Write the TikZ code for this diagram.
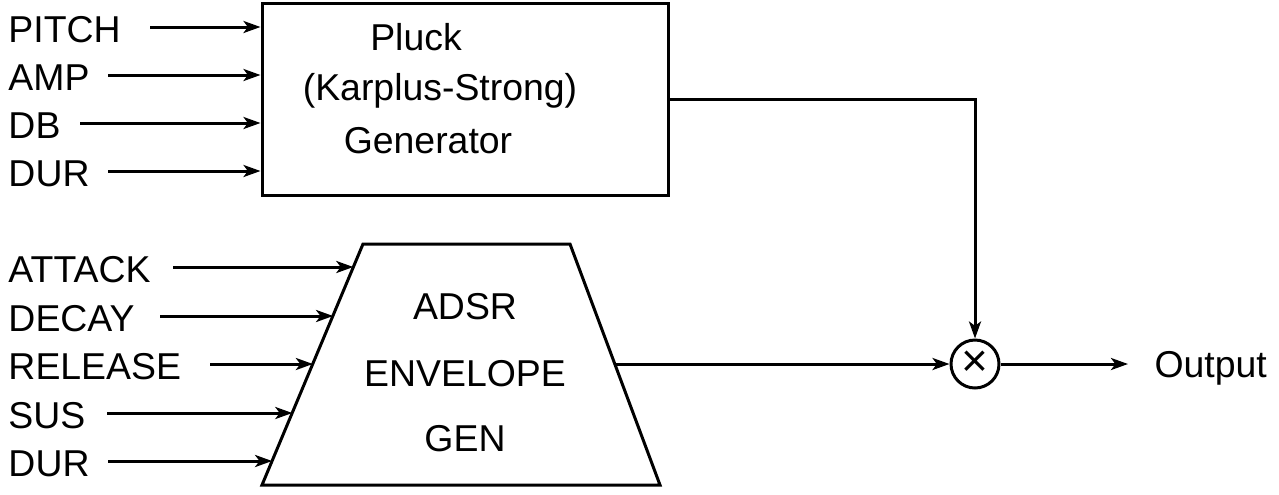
\documentclass[tikz,border=0pt]{standalone}
\usepackage{fontspec}
\setmainfont{Liberation Sans}
\usetikzlibrary{arrows.meta}
\begin{document}
\begin{tikzpicture}[x=0.5pt,y=-0.5pt, line width=1.5pt,
  lbl/.style={font=\fontsize{18.7}{22}\selectfont, inner sep=0},
  arr/.style={-{Stealth[length=8.5pt,width=6pt,inset=2.2pt]}}]
\useasboundingbox (0,0) rectangle (1279,494);
% Pluck generator box
\node[draw, minimum width=203pt, minimum height=96pt, inner sep=0] (pluck) at (465,99) {};
\node[lbl, anchor=base] (tpluck) at (416,50) {Pluck};
\node[lbl, anchor=base] (tkarp) at (440,100) {(Karplus-Strong)};
\node[lbl, anchor=base] (tgen) at (428,153) {Generator};
% inputs to pluck
\node[lbl, anchor=base west] (pitch) at (7,42) {PITCH};
\node[lbl, anchor=base west] (amp) at (7,90) {AMP};
\node[lbl, anchor=base west] (db) at (7,138) {DB};
\node[lbl, anchor=base west] (dur1) at (7,186) {DUR};
\coordinate (pitchs) at (150,27);
\coordinate (amps) at (108,75);
\coordinate (dbs) at (80,123);
\coordinate (dur1s) at (108,171);
\foreach \c in {pitchs,amps,dbs,dur1s}
  \draw[arr] (\c) -- (\c -| pluck.west);
% ADSR trapezoid
\coordinate (tl) at (363,244);
\coordinate (tr) at (570,244);
\coordinate (br) at (660,485);
\coordinate (bl) at (262,485);
\draw[line join=miter] (tl) -- (tr) -- (br) -- (bl) -- cycle;
\node[lbl, anchor=base] (tadsr) at (465,319) {ADSR};
\node[lbl, anchor=base] (tenv) at (465,386) {ENVELOPE};
\node[lbl, anchor=base] (tgen2) at (465,451) {GEN};
% inputs to ADSR
\node[lbl, anchor=base west] (attack) at (7,282) {ATTACK};
\node[lbl, anchor=base west] (decay) at (7,331) {DECAY};
\node[lbl, anchor=base west] (release) at (7,379) {RELEASE};
\node[lbl, anchor=base west] (sus) at (7,428) {SUS};
\node[lbl, anchor=base west] (dur2) at (7,476) {DUR};
\coordinate (attacks) at (173,267);
\coordinate (decays) at (160,316);
\coordinate (releases) at (210,364);
\coordinate (suss) at (107,413);
\coordinate (dur2s) at (108,461);
\coordinate (attacke) at (353.3,267);
\coordinate (decaye) at (333.1,316);
\coordinate (releasee) at (312.9,364);
\coordinate (suse) at (292.3,413);
\coordinate (dur2e) at (272.1,461);
\foreach \c in {attack,decay,release,sus,dur2}
  \draw[arr] (\c s) -- (\c e);
% multiplier
\node[draw, circle, minimum size=24pt, inner sep=0, font=\fontsize{23}{24}\selectfont] (mul) at (975,364) {×};
\coordinate (adsrout) at (614.8,364);
\draw[arr] (pluck.east |- 0,99) -| (mul.north);
\draw[arr] (adsrout) -- (mul.west);
% output
\node[lbl, anchor=base west] (out) at (1153,377) {Output};
\coordinate (oute) at (1128,364);
\draw[arr] (mul.east) -- (oute);
\end{tikzpicture}
\end{document}
